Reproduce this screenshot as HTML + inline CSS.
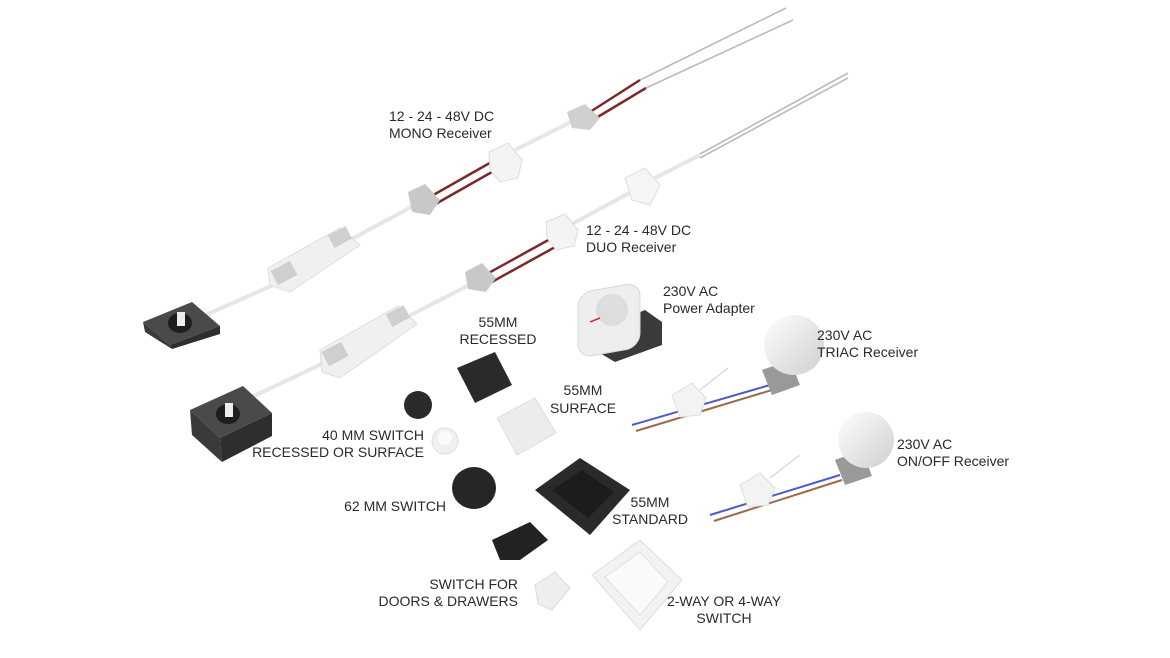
<!DOCTYPE html>
<html><head><meta charset="utf-8"><style>
html,body{margin:0;padding:0;background:#fff;width:1170px;height:658px;overflow:hidden}
svg{display:block}
text{font-family:"Liberation Sans","DejaVu Sans",sans-serif;font-size:14px;fill:#2a2a2a}
</style></head><body>
<svg width="1170" height="658" viewBox="0 0 1170 658">
<defs>
<linearGradient id="bulb" x1="0" y1="0" x2="1" y2="1"><stop offset="0" stop-color="#fff"/><stop offset="1" stop-color="#cfcfcf"/></linearGradient>
</defs>
<!-- upper chain -->
<line x1="190" y1="322" x2="280" y2="282" stroke="#e6e6e6" stroke-width="4"/>
<line x1="350" y1="240" x2="415" y2="205" stroke="#e6e6e6" stroke-width="4"/>
<line x1="428" y1="198" x2="495" y2="160" stroke="#7a2a2a" stroke-width="2.5"/>
<line x1="432" y1="206" x2="499" y2="168" stroke="#7a2a2a" stroke-width="2.5"/>
<line x1="515" y1="150" x2="575" y2="120" stroke="#e6e6e6" stroke-width="4"/>
<line x1="590" y1="112" x2="640" y2="80" stroke="#7a2a2a" stroke-width="2.5"/>
<line x1="596" y1="118" x2="646" y2="88" stroke="#7a2a2a" stroke-width="2.5"/>
<line x1="640" y1="80" x2="786" y2="8" stroke="#bbb" stroke-width="1.6"/>
<line x1="646" y1="88" x2="793" y2="20" stroke="#bbb" stroke-width="1.6"/>
<!-- lower chain -->
<line x1="235" y1="405" x2="330" y2="360" stroke="#e6e6e6" stroke-width="4"/>
<line x1="405" y1="318" x2="475" y2="282" stroke="#e6e6e6" stroke-width="4"/>
<line x1="485" y1="275" x2="552" y2="238" stroke="#7a2a2a" stroke-width="2.5"/>
<line x1="490" y1="283" x2="557" y2="246" stroke="#7a2a2a" stroke-width="2.5"/>
<line x1="570" y1="225" x2="635" y2="190" stroke="#e6e6e6" stroke-width="4"/>
<line x1="655" y1="178" x2="700" y2="155" stroke="#e6e6e6" stroke-width="4"/>
<line x1="700" y1="154" x2="848" y2="73" stroke="#bbb" stroke-width="1.6"/>
<line x1="700" y1="158" x2="848" y2="78" stroke="#bbb" stroke-width="1.6"/>
<!-- sockets -->
<polygon points="143,322 192,302 220,326 170,345" fill="#4a4a4a"/>
<polygon points="143,322 170,345 172,349 145,332" fill="#3a3a3a"/>
<polygon points="170,345 220,326 220,334 172,349" fill="#2e2e2e"/>
<ellipse cx="180" cy="323" rx="12" ry="10" fill="#1e1e1e"/><rect x="177" y="312" width="8" height="14" fill="#eee"/>
<polygon points="190,410 243,386 272,413 220,438" fill="#4a4a4a"/>
<polygon points="190,410 220,438 222,462 192,435" fill="#3a3a3a"/>
<polygon points="220,438 272,413 272,436 222,462" fill="#2e2e2e"/>
<ellipse cx="228" cy="414" rx="12" ry="10" fill="#1e1e1e"/><rect x="225" y="403" width="8" height="14" fill="#eee"/>
<!-- drivers -->
<polygon points="268,268 340,228 360,245 290,292 270,285" fill="#f0f0f0" stroke="#ddd"/>
<rect x="273" y="265" width="22" height="16" fill="#cfcfcf" transform="rotate(-28 284 273)"/>
<rect x="330" y="230" width="20" height="14" fill="#cfcfcf" transform="rotate(-28 340 237)"/>
<polygon points="320,350 398,306 417,324 340,378 322,372" fill="#f0f0f0" stroke="#ddd"/>
<rect x="324" y="346" width="22" height="16" fill="#cfcfcf" transform="rotate(-28 335 354)"/>
<rect x="388" y="309" width="20" height="14" fill="#cfcfcf" transform="rotate(-28 398 316)"/>
<!-- connectors -->
<polygon points="408,192 425,184 440,200 430,215 412,212" fill="#c8c8c8"/>
<polygon points="567,112 585,104 600,118 590,130 572,128" fill="#d0d0d0"/>
<polygon points="465,272 482,263 496,278 486,292 468,289" fill="#c8c8c8"/>
<!-- receivers -->
<polygon points="489,152 508,143 522,160 518,178 500,182 490,170" fill="#f4f4f4" stroke="#ddd"/>
<polygon points="546,222 565,214 578,230 574,246 556,250 547,238" fill="#f4f4f4" stroke="#ddd"/>
<polygon points="625,178 645,168 660,185 650,205 632,200" fill="#f6f6f6" stroke="#ddd"/>
<!-- power adapter -->
<polygon points="598,330 645,310 662,322 662,345 615,362 598,352" fill="#3a3a3a"/>
<rect x="578" y="290" width="62" height="65" rx="14" fill="#eee" stroke="#d8d8d8" transform="skewY(-10) translate(0,105)"/>
<ellipse cx="612" cy="310" rx="16" ry="16" fill="#ddd"/>
<line x1="590" y1="322" x2="600" y2="318" stroke="#c33" stroke-width="1.5"/>
<!-- switches -->
<polygon points="457,368 495,352 512,385 475,403" fill="#2a2a2a"/>
<circle cx="418" cy="405" r="14" fill="#2a2a2a"/>
<circle cx="445" cy="441" r="13" fill="#f0f0f0" stroke="#ddd"/>
<circle cx="445" cy="438" r="7" fill="#fafafa"/>
<polygon points="497,418 535,398 556,433 517,455" fill="#ececec" stroke="#ddd"/>
<ellipse cx="474" cy="488" rx="22" ry="21" fill="#262626"/>
<polygon points="535,490 580,458 630,490 590,535" fill="#2a2a2a"/>
<polygon points="552,490 582,470 614,492 588,518" fill="#1c1c1c"/>
<polygon points="492,540 530,522 548,540 520,560 500,560" fill="#222"/>
<polygon points="535,585 555,572 570,588 552,610 538,604" fill="#eee" stroke="#ddd"/>
<polygon points="592,575 640,540 682,580 640,630" fill="#f2f2f2" stroke="#ddd"/>
<polygon points="605,577 640,552 668,582 640,615" fill="#fafafa" stroke="#e0e0e0"/>
<!-- TRIAC -->
<line x1="632" y1="425" x2="770" y2="385" stroke="#4a5ad0" stroke-width="2"/>
<line x1="636" y1="431" x2="772" y2="390" stroke="#9a6a4a" stroke-width="2"/>
<line x1="700" y1="390" x2="728" y2="368" stroke="#ddd" stroke-width="1.5"/>
<polygon points="672,395 692,383 706,398 700,415 680,417" fill="#f3f3f3" stroke="#ddd"/>
<polygon points="762,370 790,360 800,385 772,395" fill="#999"/>
<circle cx="794" cy="345" r="30" fill="url(#bulb)"/>
<!-- ON/OFF -->
<line x1="710" y1="515" x2="840" y2="475" stroke="#4a5ad0" stroke-width="2"/>
<line x1="714" y1="521" x2="842" y2="480" stroke="#9a6a4a" stroke-width="2"/>
<line x1="770" y1="478" x2="800" y2="455" stroke="#ddd" stroke-width="1.5"/>
<polygon points="740,485 760,473 775,488 768,505 748,507" fill="#f3f3f3" stroke="#ddd"/>
<polygon points="835,460 862,450 872,476 845,485" fill="#999"/>
<circle cx="866" cy="440" r="28" fill="url(#bulb)"/>
<!-- labels -->
<text x="389" y="121">12 - 24 - 48V DC</text>
<text x="389" y="138">MONO Receiver</text>
<text x="586" y="235">12 - 24 - 48V DC</text>
<text x="586" y="252">DUO Receiver</text>
<text x="663" y="296">230V AC</text>
<text x="663" y="313">Power Adapter</text>
<text x="498" y="327" text-anchor="middle">55MM</text>
<text x="498" y="344" text-anchor="middle">RECESSED</text>
<text x="817" y="340">230V AC</text>
<text x="817" y="357">TRIAC Receiver</text>
<text x="583" y="395" text-anchor="middle">55MM</text>
<text x="583" y="413" text-anchor="middle">SURFACE</text>
<text x="424" y="440" text-anchor="end">40 MM SWITCH</text>
<text x="424" y="457" text-anchor="end">RECESSED OR SURFACE</text>
<text x="897" y="449">230V AC</text>
<text x="897" y="466">ON/OFF Receiver</text>
<text x="446" y="511" text-anchor="end">62 MM SWITCH</text>
<text x="650" y="507" text-anchor="middle">55MM</text>
<text x="650" y="524" text-anchor="middle">STANDARD</text>
<text x="518" y="589" text-anchor="end">SWITCH FOR</text>
<text x="518" y="606" text-anchor="end">DOORS &amp; DRAWERS</text>
<text x="724" y="606" text-anchor="middle">2-WAY OR 4-WAY</text>
<text x="724" y="623" text-anchor="middle">SWITCH</text>
</svg>
</body></html>
